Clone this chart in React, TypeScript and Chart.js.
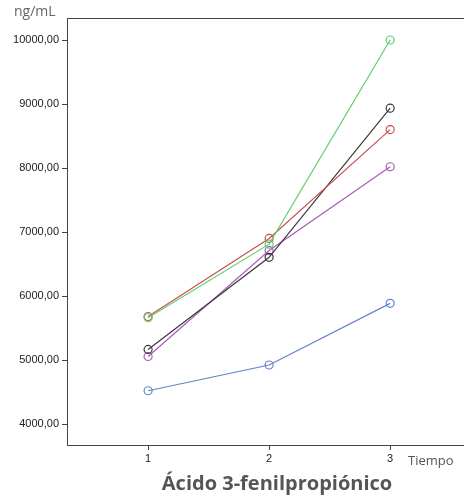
import React, { useEffect, useRef } from "react";
import { Chart, registerables } from "chart.js";

Chart.register(...registerables);

// Sampling times and concentrations (ng/mL) per subject
const tiempos = [1, 2, 3];
const serieVerde = [5660, 6810, 10000];
const serieRoja = [5680, 6900, 8600];
const serieNegra = [5165, 6605, 8935];
const seriePurpura = [5055, 6710, 8020];
const serieAzul = [4520, 4922, 5885];
const yTicks = [4000, 5000, 6000, 7000, 8000, 9000, 10000];

const series = [
  { data: serieVerde, color: "#5fcf6e" },
  { data: serieRoja, color: "#c9504f" },
  { data: serieNegra, color: "#3a3a3a" },
  { data: seriePurpura, color: "#a95cb5" },
  { data: serieAzul, color: "#6482cc" },
];

const formatNum = (v: number) => v.toFixed(2).replace(".", ",");

const decorPlugin = {
  id: "decor",
  afterDraw(chart: any) {
    const { ctx, chartArea } = chart;
    ctx.save();
    // top frame line
    ctx.strokeStyle = "#444";
    ctx.lineWidth = 1;
    ctx.beginPath();
    ctx.moveTo(chartArea.left, chartArea.top + 0.5);
    ctx.lineTo(chart.width, chartArea.top + 0.5);
    ctx.stroke();
    // unit label
    ctx.fillStyle = "#666";
    ctx.font = "14px 'Open Sans'";
    ctx.textBaseline = "alphabetic";
    ctx.textAlign = "left";
    ctx.fillText("ng/mL", 14, 16);
    // x axis name
    ctx.fillStyle = "#555";
    ctx.font = "13px 'Open Sans'";
    ctx.fillText("Tiempo", 408, 465);
    // title
    ctx.fillStyle = "#555";
    ctx.font = "bold 20px 'Open Sans'";
    ctx.textAlign = "center";
    ctx.fillText("Ácido 3-fenilpropiónico", 277, 490);
    ctx.restore();
  },
};

export default function App() {
  const ref = useRef<HTMLCanvasElement>(null);
  useEffect(() => {
    const chart = new Chart(ref.current!, {
      type: "line",
      data: {
        datasets: series.map((s) => ({
          data: s.data.map((y, i) => ({ x: tiempos[i], y })),
          borderColor: s.color,
          backgroundColor: "rgba(0,0,0,0)",
          pointBorderColor: s.color,
          pointBackgroundColor: "rgba(0,0,0,0)",
          pointRadius: 4,
          pointBorderWidth: 1.2,
          borderWidth: 1.2,
          tension: 0,
        })),
      },
      options: {
        animation: false,
        responsive: false,
        maintainAspectRatio: false,
        layout: { autoPadding: false, padding: { top: 18, right: 0, left: 0, bottom: 0 } },
        plugins: { legend: { display: false }, tooltip: { enabled: false } },
        scales: {
          x: {
            type: "linear",
            min: 0.33,
            max: 3.61,
            afterBuildTicks: (scale: any) => {
              scale.ticks = tiempos.map((v) => ({ value: v }));
            },
            afterFit: (scale: any) => {
              scale.height = 53;
              scale.paddingLeft = 0;
              scale.paddingRight = 0;
            },
            grid: {
              drawOnChartArea: false,
              drawTicks: true,
              tickLength: 5,
              color: "#444",
            },
            border: { display: true, color: "#444", width: 1 },
            ticks: {
              color: "#222",
              font: { family: "'Liberation Sans', Arial", size: 11 },
              padding: 2,
              maxRotation: 0,
              callback: (v: any) => String(v),
            },
          },
          y: {
            type: "linear",
            min: 3672,
            max: 10344,
            afterBuildTicks: (scale: any) => {
              scale.ticks = yTicks.map((v) => ({ value: v }));
            },
            afterFit: (scale: any) => {
              scale.width = 67;
              scale.paddingTop = 0;
              scale.paddingBottom = 0;
            },
            grid: {
              drawOnChartArea: false,
              drawTicks: true,
              tickLength: 5,
              color: "#444",
            },
            border: { display: true, color: "#444", width: 1 },
            ticks: {
              color: "#222",
              font: { family: "'Liberation Sans', Arial", size: 11 },
              padding: 3,
              callback: (v: any) => formatNum(Number(v)),
            },
          },
        },
      },
      plugins: [decorPlugin],
    });
    return () => chart.destroy();
  }, []);

  return (
    <div style={{ position: "fixed", left: 0, top: 0, width: 464, height: 498, background: "#fff" }}>
      <canvas ref={ref} width={464} height={498} style={{ width: 464, height: 498 }} />
    </div>
  );
}
